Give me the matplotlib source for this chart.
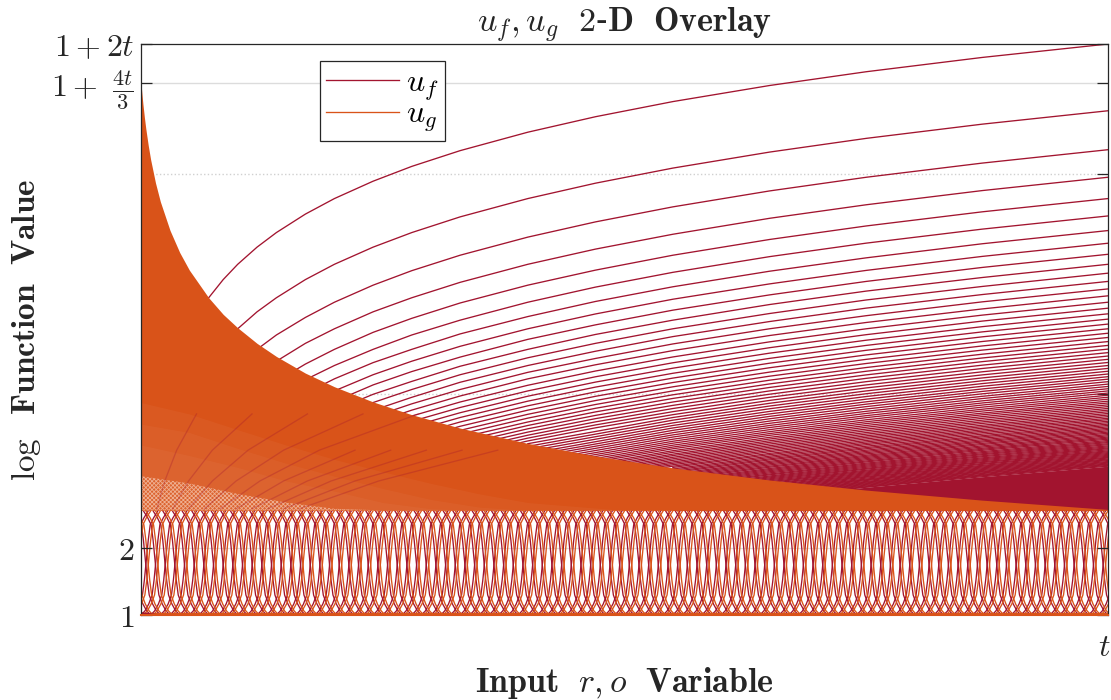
import matplotlib
matplotlib.use("Agg")
import matplotlib.pyplot as plt
from matplotlib.transforms import ScaledTranslation

plt.rcParams.update({'mathtext.fontset': 'cm', 'font.family': 'serif', 'font.serif': ['DejaVu Serif'],
                     'axes.unicode_minus': False, 'hatch.linewidth': 0.6})

crimson = '#A2142F'
orange = '#D95319'
dark = '#262626'

# x is in units of t, y is the function value (log axis)
tick_values = [1, 2, 9.8, 95.7, 245.7, 367]
tick_labels = ['$1$', '$2$', '', '', r'$1+\ \frac{4t}{3}\,$', '$1+2t$']
solid_grid = [2, 245.7]
dotted_grid = [9.8, 95.7]

# upper edge of the orange block
env_x = [0, .001, .002, .0035, .005, .0075, .01, .015, .02, .03, .04, .05, .07, .085, .1, .12, .14, .17, .2,
         .24, .28, .33, .4, .47, .55, .65, .75, .87, 1]
env_u = [245, 218.5, 197, 172, 152.6, 128.5, 110.9, 87.2, 71.9, 53.4, 42.5, 35.4, 26.6, 22.4, 19.5, 16.6, 14.5,
         12.2, 10.6, 9.06, 7.94, 6.91, 5.9, 5.18, 4.58, 4.04, 3.64, 3.28, 2.98]
floor_u = 2.95

# u_f curves, each row ends at x = 1 and uses the tail of its grid
uf_grid_a = [.05, .06, .07, .085, .1, .12, .14, .17, .2, .24, .28, .33, .4, .47, .55, .65, .75, .87, 1]
uf_rows_a = [
    [19.3, 23, 26.6, 32.1, 37.6, 44.9, 52.2, 63.2, 74.2, 88.8, 103.5, 121.8, 147.4, 173, 202.3, 238.9, 275.5, 319.4, 367],
    [13.8, 16.6, 19.3, 23, 26.6, 32.1, 37.6, 44.9, 52.2, 61.4, 74.2, 87, 101.7, 120, 138.3, 160.2, 184],
    [13.2, 15.6, 18.1, 21.7, 25.4, 30.3, 35.2, 41.3, 49.8, 58.3, 68.1, 80.3, 92.5, 107.1, 123],
    [10.2, 12, 13.8, 16.6, 19.3, 23, 26.6, 31.2, 37.6, 44, 51.3, 60.5, 69.6, 80.6, 92.5],
    [11.2, 13.4, 15.6, 18.6, 21.5, 25.2, 30.3, 35.4, 41.3, 48.6, 55.9, 64.7, 74.2],
    [9.5, 11.4, 13.2, 15.6, 18.1, 21.1, 25.4, 29.7, 34.6, 40.7, 46.8, 54.1, 62],
    [8.3, 9.9, 11.5, 13.6, 15.6, 18.3, 21.9, 25.6, 29.8, 35, 40.2, 46.5, 53.3],
    [10.15, 12, 13.8, 16.1, 19.3, 22.5, 26.2, 30.7, 35.3, 40.8, 46.75],
    [9.1, 10.8, 12.4, 14.4, 17.3, 20.1, 23.4, 27.4, 31.5, 36.4, 41.7],
    [8.3, 9.8, 11.2, 13.1, 15.6, 18.2, 21.1, 24.8, 28.5, 32.8, 37.6],
    [7.65, 9, 10.3, 12, 14.3, 16.6, 19.3, 22.6, 26, 29.9, 34.3],
    [7.1, 8.3, 9.5, 11.1, 13.2, 15.3, 17.8, 20.8, 23.9, 27.5, 31.5],
    [6.63, 7.76, 8.88, 10.3, 12.3, 14.2, 16.5, 19.3, 22.1, 25.5, 29.15],
    [6.23, 7.27, 8.32, 9.63, 11.5, 13.3, 15.4, 18, 20.6, 23.7, 27.14],
    [7.83, 9.05, 10.76, 12.47, 14.42, 16.86, 19.3, 22.23, 25.4],
    [7.41, 8.55, 10.15, 11.75, 13.58, 15.87, 18.16, 20.9, 23.88],
    [7.03, 8.1, 9.61, 11.12, 12.84, 15, 17.15, 19.73, 22.53],
    [6.69, 7.71, 9.13, 10.56, 12.18, 14.21, 16.25, 18.69, 21.33],
    [6.39, 7.36, 8.7, 10.05, 11.59, 13.52, 15.45, 17.76, 20.26],
    [6.12, 7.04, 8.32, 9.6, 11.07, 12.9, 14.73, 16.92, 19.3],
    [5.88, 6.75, 7.97, 9.19, 10.59, 12.33, 14.07, 16.16, 18.43],
    [5.66, 6.49, 7.66, 8.82, 10.15, 11.82, 13.48, 15.48, 17.64],
    [5.46, 6.25, 7.36, 8.48, 9.75, 11.34, 12.93, 14.84, 16.91],
    [5.27, 6.03, 7.1, 8.17, 9.39, 10.91, 12.44, 14.27, 16.25],
    [5.1, 5.83, 6.86, 7.88, 9.05, 10.52, 11.98, 13.74, 15.64],
    [4.94, 5.65, 6.63, 7.62, 8.74, 10.15, 11.56, 13.25, 15.08],
    [4.8, 5.47, 6.42, 7.37, 8.46, 9.81, 11.17, 12.8, 14.56],
    [4.66, 5.31, 6.23, 7.14, 8.19, 9.5, 10.8, 12.37, 14.07],
    [4.53, 5.16, 6.05, 6.93, 7.94, 9.2, 10.47, 11.98, 13.62],
]

uf_grid_b = [.4, .55, .65, .75, .87, 1]
uf_rows_b = [
    [5.88, 7.71, 8.93, 10.15, 11.61, 13.2],
    [5.72, 7.5, 8.68, 9.86, 11.27, 12.81],
    [5.58, 7.29, 8.44, 9.58, 10.95, 12.44],
    [5.44, 7.1, 8.21, 9.32, 10.65, 12.09],
    [5.3, 6.92, 8, 9.07, 10.36, 11.76],
    [5.18, 6.75, 7.8, 8.85, 10.1, 11.46],
    [5.07, 6.59, 7.61, 8.63, 9.85, 11.17],
    [4.96, 6.44, 7.43, 8.42, 9.6, 10.89],
    [4.85, 6.3, 7.26, 8.22, 9.38, 10.63],
    [4.75, 6.16, 7.1, 8.04, 9.16, 10.38],
    [4.66, 6.03, 6.95, 7.86, 8.96, 10.15],
    [4.57, 5.91, 6.8, 7.7, 8.77, 9.93],
    [4.48, 5.79, 6.66, 7.53, 8.58, 9.71],
    [4.4, 5.68, 6.53, 7.38, 8.4, 9.51],
    [4.33, 5.58, 6.41, 7.24, 8.24, 9.32],
    [4.25, 5.47, 6.28, 7.1, 8.07, 9.13],
    [4.18, 5.38, 6.17, 6.97, 7.93, 8.96],
    [4.12, 5.28, 6.06, 6.84, 7.78, 8.79],
    [4.05, 5.2, 5.96, 6.72, 7.64, 8.63],
    [3.99, 5.11, 5.86, 6.6, 7.5, 8.47],
    [3.93, 5.03, 5.76, 6.49, 7.37, 8.32],
    [3.87, 4.95, 5.67, 6.38, 7.25, 8.18],
    [3.82, 4.87, 5.58, 6.28, 7.12, 8.04],
    [3.76, 4.8, 5.49, 6.18, 7.01, 7.91],
    [3.71, 4.73, 5.41, 6.08, 6.9, 7.78],
    [3.66, 4.66, 5.32, 5.99, 6.79, 7.65],
    [4.6, 5.25, 5.9, 6.69, 7.54],
    [4.53, 5.17, 5.82, 6.59, 7.42],
    [4.47, 5.1, 5.73, 6.49, 7.31],
    [4.41, 5.03, 5.65, 6.39, 7.2],
    [4.36, 4.97, 5.58, 6.31, 7.1],
    [4.3, 4.9, 5.5, 6.22, 7],
    [4.25, 4.84, 5.43, 6.13, 6.9],
    [4.2, 4.78, 5.36, 6.05, 6.81],
    [4.15, 4.72, 5.29, 5.98, 6.72],
    [4.1, 4.66, 5.22, 5.9, 6.63],
    [4.05, 4.61, 5.16, 5.83, 6.55],
    [4, 4.55, 5.1, 5.75, 6.46],
    [3.96, 4.5, 5.04, 5.68, 6.38],
    [3.92, 4.45, 4.98, 5.61, 6.3],
    [3.88, 4.4, 4.92, 5.55, 6.23],
    [3.84, 4.35, 4.87, 5.49, 6.16],
    [3.8, 4.3, 4.81, 5.42, 6.08],
    [3.76, 4.26, 4.76, 5.36, 6.01],
    [3.72, 4.21, 4.71, 5.3, 5.95],
    [3.68, 4.17, 4.66, 5.25, 5.88],
    [3.65, 4.13, 4.61, 5.19, 5.82],
    [3.61, 4.09, 4.56, 5.14, 5.75],
    [3.58, 4.05, 4.52, 5.08, 5.69],
    [3.55, 4.01, 4.47, 5.03, 5.63],
    [3.52, 3.97, 4.43, 4.98, 5.58],
    [3.49, 3.94, 4.39, 4.93, 5.52],
    [3.45, 3.9, 4.35, 4.88, 5.46],
    [3.43, 3.87, 4.31, 4.84, 5.41],
    [3.4, 3.83, 4.27, 4.79, 5.36],
    [3.37, 3.8, 4.23, 4.75, 5.31],
    [3.34, 3.77, 4.19, 4.7, 5.26],
    [3.31, 3.73, 4.16, 4.66, 5.21],
    [3.29, 3.7, 4.12, 4.62, 5.16],
    [3.26, 3.67, 4.08, 4.58, 5.11],
    [3.24, 3.64, 4.05, 4.54, 5.07],
    [3.21, 3.61, 4.02, 4.5, 5.02],
    [3.19, 3.59, 3.98, 4.46, 4.98],
    [3.16, 3.56, 3.95, 4.42, 4.94],
    [3.14, 3.53, 3.92, 4.39, 4.89],
    [3.12, 3.5, 3.89, 4.35, 4.85],
    [3.1, 3.48, 3.86, 4.32, 4.81],
    [3.08, 3.45, 3.83, 4.28, 4.77],
    [3.05, 3.43, 3.8, 4.25, 4.74],
    [3.03, 3.4, 3.77, 4.22, 4.7],
    [3.01, 3.38, 3.75, 4.18, 4.66],
]

# the packed part of u_f below the last separate curve
packed_x = [.55, .65, .75, .87, 1]
packed_top = [3.01, 3.38, 3.75, 4.18, 4.66]

# lighter parts of the orange block at lower left
grad_x = [0, .05, .1, .15, .2, .25, .3, .35, .4, .5]
grad_rows = [
    [9, 8, 6.8, 5.8, 5, 4.4, 3.9, 3.5, 3.2, 2.95],
    [7.2, 6.6, 5.6, 4.8, 4.2, 3.7, 3.3, 3.05, 2.95, 2.95],
    [5.8, 5.2, 4.6, 4, 3.6, 3.2, 3, 2.95, 2.95, 2.95],
]
hatch_row = [4.2, 3.9, 3.5, 3.2, 3, 2.95, 2.95, 2.95, 2.95, 2.95]

# u_f arcs showing through the orange
fan_u = [3, 4, 5.5, 8]
fan_rows = [
    [.0164, .0246, .0369, .0574],
    [.0328, .0492, .0738, .1148],
    [.0492, .0738, .1107, .1721],
    [.0656, .0984, .1475, .2295],
    [.082, .123, .1844, .2869],
    [.0984, .1475, .2213],
    [.1148, .1721, .2582],
    [.1311, .1967, .2951],
    [.1475, .2213, .332],
    [.1639, .2459, .3689],
]

# crossing lines under the orange block
lattice_u = [1, 1.042, 1.12, 1.23, 1.436, 1.767, 2.17, 2.54, 2.73, 2.96]
lattice_dx = [0, .004, .008, .0115, .0135, .0155, .0175, .0195, .023, .028]
uf_foot = [-.03, -.02, -.01, 0, .01, .02, .03, .04, .05, .06, .07, .08, .09, .1, .11, .12, .13, .14, .15, .16,
           .17, .18, .19, .2, .21, .22, .23, .24, .25, .26, .27, .28, .29, .3, .31, .32, .33, .34, .35, .36,
           .37, .38, .39, .4, .41, .42, .43, .44, .45, .46, .47, .48, .49, .5, .51, .52, .53, .54, .55, .56,
           .57, .58, .59, .6, .61, .62, .63, .64, .65, .66, .67, .68, .69, .7, .71, .72, .73, .74, .75, .76,
           .77, .78, .79, .8, .81, .82, .83, .84, .85, .86, .87, .88, .89, .9, .91, .92, .93, .94, .95, .96,
           .97, .98, .99, 1, 1.01, 1.02, 1.03]
ug_foot = [-.0275, -.0175, -.0075, .0025, .0125, .0225, .0325, .0425, .0525, .0625, .0725, .0825, .0925, .1025,
           .1125, .1225, .1325, .1425, .1525, .1625, .1725, .1825, .1925, .2025, .2125, .2225, .2325, .2425,
           .2525, .2625, .2725, .2825, .2925, .3025, .3125, .3225, .3325, .3425, .3525, .3625, .3725, .3825,
           .3925, .4025, .4125, .4225, .4325, .4425, .4525, .4625, .4725, .4825, .4925, .5025, .5125, .5225,
           .5325, .5425, .5525, .5625, .5725, .5825, .5925, .6025, .6125, .6225, .6325, .6425, .6525, .6625,
           .6725, .6825, .6925, .7025, .7125, .7225, .7325, .7425, .7525, .7625, .7725, .7825, .7925, .8025,
           .8125, .8225, .8325, .8425, .8525, .8625, .8725, .8825, .8925, .9025, .9125, .9225, .9325, .9425,
           .9525, .9625, .9725, .9825, .9925, 1.0025, 1.0125, 1.0225]

# small crimson wedge at the origin
wedge_x = [0, .012, .028]
wedge_u = [1.035, 1.02, 1]

fig = plt.figure(figsize=(11.11, 7.0), dpi=100)
ax = fig.add_axes([141 / 1111, 85 / 700, 967 / 1111, 571 / 700])
ax.set_yscale('log')
ax.set_xlim(0, 1)
ax.set_ylim(1, 367)

lw = 0.95

for v in solid_grid:
    ax.axhline(v, color='#DCDCDC', lw=1.0, zorder=0)
for v in dotted_grid:
    ax.axhline(v, color='#D0D0D0', lw=1.0, ls=':', zorder=0)

# lattice
for foot in uf_foot:
    ax.plot([foot + d for d in lattice_dx], lattice_u, color=crimson, lw=lw, zorder=1)
    ax.plot([foot - d for d in lattice_dx], lattice_u, color=crimson, lw=lw, zorder=1)
for foot in ug_foot:
    ax.plot([foot + d for d in lattice_dx], lattice_u, color=orange, lw=lw, zorder=1.2)
    ax.plot([foot - d for d in lattice_dx], lattice_u, color=orange, lw=lw, zorder=1.2)

# u_f curves
for row in uf_rows_a:
    ax.plot(uf_grid_a[-len(row):], row, color=crimson, lw=lw, zorder=2)
for row in uf_rows_b:
    ax.plot(uf_grid_b[-len(row):], row, color=crimson, lw=lw, zorder=2)
ax.fill_between(packed_x, floor_u, packed_top, color=crimson, lw=0, zorder=2)

# u_g block
ax.fill_between(env_x, floor_u, env_u, color=orange, lw=0, zorder=3)
for row in grad_rows:
    ax.fill_between(grad_x, floor_u, row, color='white', alpha=0.035, lw=0, zorder=3.1)
ax.fill_between(grad_x, floor_u, hatch_row, facecolor='none', edgecolor='#EFAF91', hatch='xxxxxxxx', lw=0, zorder=3.2)
for row in fan_rows:
    ax.plot(row, fan_u[:len(row)], color=crimson, lw=lw, alpha=0.3, zorder=3.3)

# base line
ax.axhline(1.012, color=orange, lw=2.2, zorder=3.5)
ax.fill_between(wedge_x, 1, wedge_u, color=crimson, lw=0, zorder=3.6)

ax.set_yticks(tick_values)
ax.set_yticklabels(tick_labels)
ax.minorticks_off()
ax.set_xticks([1])
ax.set_xticklabels(['$t$'], ha='right')
ax.tick_params(axis='y', which='major', direction='in', length=8, width=0.9, color=dark, left=True, right=True,
               labelsize=23, labelcolor=dark, pad=5)
ax.tick_params(axis='x', which='major', direction='in', length=0, labelsize=23, labelcolor=dark, pad=12)
for lab in ax.get_xticklabels():
    lab.set_transform(lab.get_transform() + ScaledTranslation(3 / 100, 0, fig.dpi_scale_trans))
for s in ax.spines.values():
    s.set_color(dark)
    s.set_linewidth(0.9)
    s.set_zorder(5)
ax.spines['bottom'].set_color(orange)
ax.spines['bottom'].set_linewidth(1.5)

ax.set_title(r'$u_f, u_g\ \ \mathbf{2}$-$\mathbf{D\ \ Overlay}$', fontsize=24.5, color=dark, pad=5)
ax.set_xlabel(r'$\mathbf{Input}\ \ r, o\ \ \mathbf{Variable}$', fontsize=24.5, color=dark, labelpad=2)
ax.set_ylabel(r'$\log\ \ \mathbf{Function\ \ Value}$', fontsize=24, color=dark, labelpad=6)

h1, = ax.plot([], [], color=crimson, lw=lw)
h2, = ax.plot([], [], color=orange, lw=lw)
leg = ax.legend([h1, h2], ['$u_f$', '$u_g$'], loc='upper left', bbox_to_anchor=(179 / 967, 554 / 571),
                borderaxespad=0, fancybox=False, framealpha=1, edgecolor=dark, fontsize=23, handlelength=2.28,
                labelspacing=-0.12, handletextpad=0.2, borderpad=0.2)
leg.get_frame().set_linewidth(0.9)
leg.set_zorder(6)

fig.savefig('out.png', dpi=100)
